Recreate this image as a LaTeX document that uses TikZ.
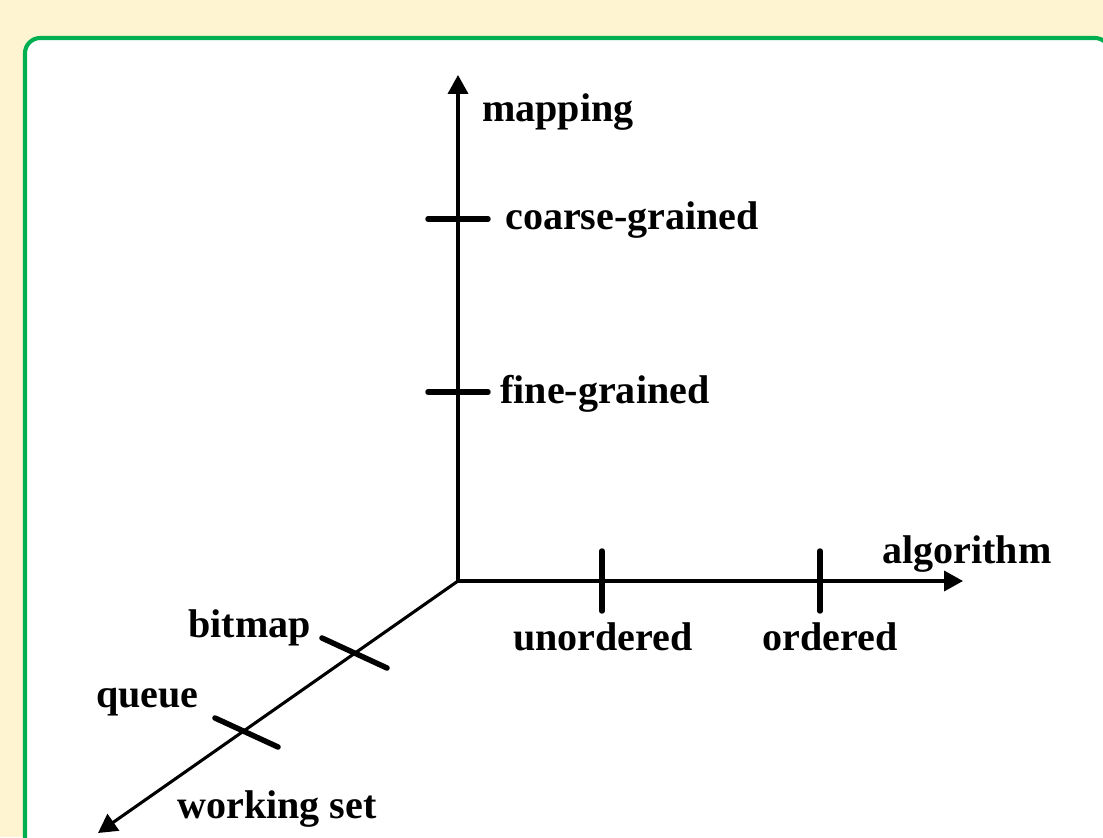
\documentclass[tikz,border=0pt]{standalone}
\usepackage{fontspec}
\setmainfont{Liberation Serif}
\usetikzlibrary{arrows.meta}
\definecolor{cream}{RGB}{254,244,210}
\definecolor{framegreen}{RGB}{0,176,80}
\begin{document}
\begin{tikzpicture}[
    axis/.style={line width=2.2pt, -{Triangle[length=0.47cm,width=0.5cm]}},
    tick/.style={line width=3.9pt, line cap=round},
    lbl/.style={inner sep=0pt, font=\fontsize{28.5}{34}\selectfont\bfseries}]
  \fill[cream] (-11.45,-6.4) rectangle (16.125,14.525);
  \useasboundingbox (-11.45,-6.4) rectangle (16.125,14.525);
  \draw[framegreen, line width=2.9pt, fill=white, rounded corners=0.38cm]
    (-10.825,-8) rectangle (16.3,13.575);
  \coordinate (O) at (0,0);
  \coordinate (mapTip) at (0,12.65);
  \coordinate (algTip) at (12.625,0);
  \coordinate (wsTip) at (-9.0,-6.3);
  \draw[axis] (O) -- (mapTip);
  \draw[axis] (O) -- (algTip);
  \draw[axis] (O) -- (wsTip);
  % ticks on the three axes
  \draw[tick] (-0.75,9.05) -- (0.75,9.05);
  \draw[tick] (-0.75,4.725) -- (0.75,4.725);
  \draw[tick] (3.6,-0.75) -- (3.6,0.75);
  \draw[tick] (9.05,-0.75) -- (9.05,0.75);
  \draw[tick] (-3.4,-1.425) -- (-1.775,-2.175);
  \draw[tick] (-6.075,-3.425) -- (-4.5,-4.15);
  % labels
  \node[lbl, anchor=base west] (mapping) at (0.6,11.475) {mapping};
  \node[lbl, anchor=base west] (coarse) at (1.175,8.775) {coarse-grained};
  \node[lbl, anchor=base west] (fine) at (1.05,4.45) {fine-grained};
  \node[lbl, anchor=base west] (algorithm) at (10.6,0.45) {algorithm};
  \node[lbl, anchor=base] (unordered) at (3.625,-1.725) {unordered};
  \node[lbl, anchor=base] (ordered) at (9.3,-1.725) {ordered};
  \node[lbl, anchor=base west] (bitmap) at (-6.75,-1.4) {bitmap};
  \node[lbl, anchor=base west] (queue) at (-9.05,-3.15) {queue};
  \node[lbl, anchor=base west] (workset) at (-7.025,-5.925) {working set};
\end{tikzpicture}
\end{document}
